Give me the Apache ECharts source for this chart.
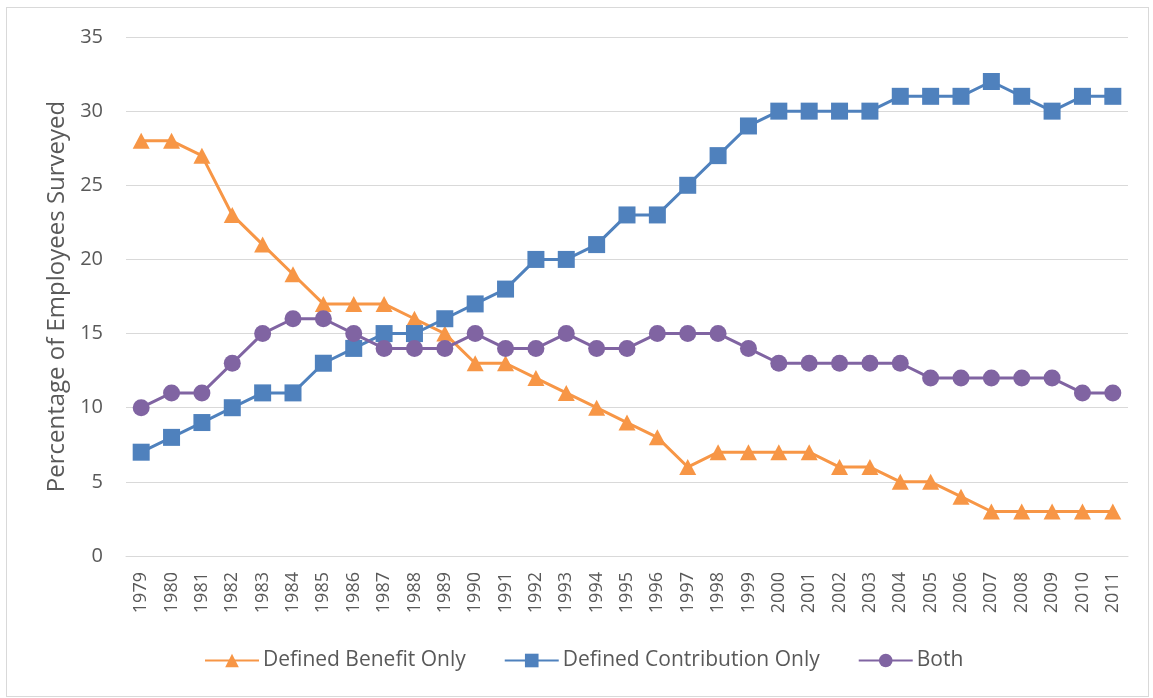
<!DOCTYPE html>
<html>
<head>
<meta charset="utf-8">
<script src="https://cdn.jsdelivr.net/npm/echarts@6/dist/echarts.min.js"></script>
<style>
  html, body { margin: 0; padding: 0; background: #fff; }
  #chart { width: 1153px; height: 698px; }
  #frame { position: absolute; left: 6px; top: 7px; width: 1143px; height: 690px; border: 1px solid #d9d9d9; box-sizing: border-box; pointer-events: none; }
</style>
</head>
<body>
<div id="chart"></div>
<div id="frame"></div>
<script>
var years = ['1979','1980','1981','1982','1983','1984','1985','1986','1987','1988','1989','1990','1991','1992','1993','1994','1995','1996','1997','1998','1999','2000','2001','2002','2003','2004','2005','2006','2007','2008','2009','2010','2011'];
var definedBenefit = [28,28,27,23,21,19,17,17,17,16,15,13,13,12,11,10,9,8,6,7,7,7,7,6,6,5,5,4,3,3,3,3,3];
var definedContribution = [7,8,9,10,11,11,13,14,15,15,16,17,18,20,20,21,23,23,25,27,29,30,30,30,30,31,31,31,32,31,30,31,31];
var both = [10,11,11,13,15,16,16,15,14,14,14,15,14,14,15,14,14,15,15,15,14,13,13,13,13,13,12,12,12,12,12,11,11];

var font = 'Open Sans';
var textColor = '#595959';

var chart = echarts.init(document.getElementById('chart'));

function line(name, data, color, symbol, size) {
  return {
    name: name,
    type: 'line',
    data: data,
    symbol: symbol,
    symbolSize: size,
    lineStyle: { color: color, width: 3 },
    itemStyle: { color: color },
    animation: false
  };
}

chart.setOption({
  animation: false,
  grid: { left: 126, right: 25, top: 37, bottom: 142 },
  legend: {
    top: 645,
    left: 199,
    itemWidth: 54,
    itemHeight: 17,
    itemGap: 38,
    textStyle: { fontFamily: font, fontSize: 21, color: textColor, padding: [0, 0, 0, -1] },
    data: ['Defined Benefit Only', 'Defined Contribution Only', 'Both']
  },
  xAxis: {
    type: 'category',
    data: years,
    boundaryGap: true,
    axisLine: { lineStyle: { color: '#d9d9d9', width: 1 } },
    axisTick: { show: false },
    axisLabel: { rotate: 90, interval: 0, fontFamily: font, fontSize: 18, color: textColor, margin: 16 }
  },
  yAxis: {
    type: 'value',
    min: 0,
    max: 35,
    interval: 5,
    name: 'Percentage of Employees Surveyed',
    nameLocation: 'middle',
    nameGap: 51,
    nameTextStyle: { fontFamily: font, fontSize: 24, color: textColor },
    axisLine: { show: false },
    axisTick: { show: false },
    axisLabel: { fontFamily: font, fontSize: 20, color: textColor, margin: 23 },
    splitLine: { lineStyle: { color: '#d9d9d9', width: 1 } }
  },
  series: [
    line('Defined Benefit Only', definedBenefit, '#F79646', 'triangle', [17, 16]),
    line('Defined Contribution Only', definedContribution, '#4F81BD', 'rect', 17),
    line('Both', both, '#8064A2', 'circle', 17)
  ]
});
</script>
</body>
</html>
